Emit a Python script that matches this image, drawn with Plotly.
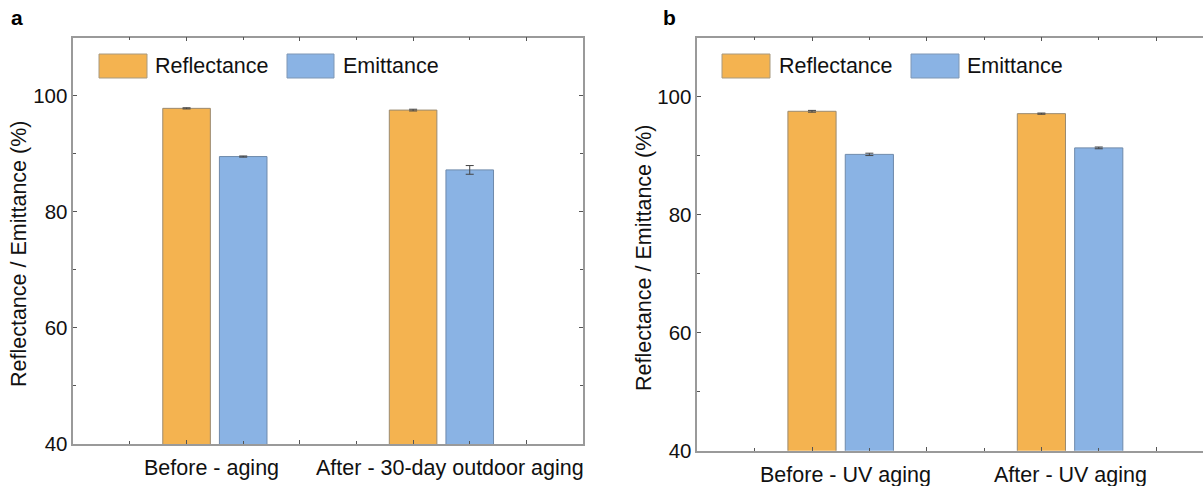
import plotly.graph_objects as go

# Measured values (%), with standard deviations
groups_a = ["Before - aging", "After - 30-day outdoor aging"]
refl_a = [97.8, 97.5]
refl_a_err = [0.1, 0.15]
emit_a = [89.5, 87.2]
emit_a_err = [0.1, 0.75]

groups_b = ["Before - UV aging", "After - UV aging"]
refl_b = [97.5, 97.1]
refl_b_err = [0.15, 0.1]
emit_b = [90.2, 91.3]
emit_b_err = [0.2, 0.15]

# Numeric bar positions on each panel's x axis
refl_pos = [1, 3]
emit_pos = [1.5, 3.5]
label_pos = [1.25, 3.25]
y_ticks = [40, 60, 80, 100]

ORANGE = "#F4B350"
BLUE = "#8AB3E4"
FONT = "Liberation Sans, Arial, sans-serif"
W, H = 1203, 486
TEXT_SIZE = 21.5

fig = go.Figure()


def add_bars(xaxis, yaxis, refl, refl_err, emit, emit_err):
    fig.add_trace(go.Bar(
        x=refl_pos, y=refl, width=0.42, xaxis=xaxis, yaxis=yaxis,
        marker=dict(color=ORANGE, line=dict(color="#9a8a70", width=1)),
        error_y=dict(type="data", array=refl_err, color="#444", thickness=1, width=4),
        showlegend=False, name="Reflectance"))
    fig.add_trace(go.Bar(
        x=emit_pos, y=emit, width=0.42, xaxis=xaxis, yaxis=yaxis,
        marker=dict(color=BLUE, line=dict(color="#6f8aab", width=1)),
        error_y=dict(type="data", array=emit_err, color="#444", thickness=1, width=4),
        showlegend=False, name="Emittance"))


add_bars("x", "y", refl_a, refl_a_err, emit_a, emit_a_err)
add_bars("x2", "y2", refl_b, refl_b_err, emit_b, emit_b_err)

axis_line = dict(showline=True, linecolor="#9a9a9a", linewidth=1.5,
                 showgrid=False, zeroline=False)

xcommon = dict(**axis_line, ticks="inside", dtick=1, tick0=0, ticklen=4,
               tickcolor="#555", tickwidth=1, showticklabels=False,
               minor=dict(dtick=0.5, tick0=0, ticks="inside", ticklen=3,
                          tickcolor="#555", tickwidth=1))
ycommon = dict(**axis_line, range=[40, 110], tickvals=y_ticks, ticks="inside",
               ticklen=4, tickcolor="#555", tickwidth=1,
               tickfont=dict(family=FONT, size=20.5, color="#111"),
               minor=dict(dtick=10, tick0=0, ticks="inside", ticklen=3,
                          tickcolor="#555", tickwidth=1))

# Panel a spans 73..583 px, panel b starts at 697 px and runs off the right edge
xa0, xa1 = 73.3, 583.0
xb0 = 697.3
unit_b = 114.7
ya_top, ya_bot = 37.5, 444.0
yb_top, yb_bot = 37.5, 450.7

fig.update_layout(
    width=W, height=H,
    margin=dict(l=0, r=0, t=0, b=0, autoexpand=False),
    paper_bgcolor="white", plot_bgcolor="white",
    barmode="overlay",
    font=dict(family=FONT, color="#111"),
    xaxis=dict(**xcommon, range=[0, 4.5], mirror="ticks",
               domain=[xa0 / W, xa1 / W], anchor="y"),
    yaxis=dict(**ycommon, mirror="ticks",
               domain=[1 - ya_bot / H, 1 - ya_top / H], anchor="x"),
    xaxis2=dict(**xcommon, range=[0, (W - xb0) / unit_b], mirror="ticks",
                domain=[xb0 / W, 1.0], anchor="y2"),
    yaxis2=dict(**ycommon, mirror=False,
                domain=[1 - yb_bot / H, 1 - yb_top / H], anchor="x2"),
)

annotations = []
shapes = []

# Group labels under each panel (small horizontal nudges per label)
label_sets = (
    ("x", groups_a, ya_bot, [-3, 9]),
    ("x2", groups_b, yb_bot, [5, 0]),
)
for xref, groups, ybot, shifts in label_sets:
    for pos, txt, dx in zip(label_pos, groups, shifts):
        annotations.append(dict(x=pos, xref=xref, y=1 - (ybot + 24) / H, yref="paper",
                                text=txt, showarrow=False, xanchor="center",
                                yanchor="middle", xshift=dx,
                                font=dict(size=TEXT_SIZE, family=FONT, color="#111")))

# Y axis titles
for xc, yc in ((19, 254), (644, 258)):
    annotations.append(dict(x=xc / W, y=1 - yc / H, xref="paper", yref="paper",
                            text="Reflectance / Emittance (%)", textangle=-90,
                            showarrow=False, xanchor="center", yanchor="middle",
                            font=dict(size=TEXT_SIZE, family=FONT, color="#111")))

# Panel letters
for xc, txt in ((17, "a"), (669, "b")):
    annotations.append(dict(x=xc / W, y=1 - 18 / H, xref="paper", yref="paper",
                            text="<b>%s</b>" % txt, showarrow=False,
                            xanchor="center", yanchor="middle",
                            font=dict(size=21, family=FONT, color="#000")))

# Legends drawn as swatches with labels
legend_items = [
    (99, 147, 153, "Reflectance", ORANGE, "#a89a80"),
    (287, 334, 341, "Emittance", BLUE, "#7f97b5"),
    (722, 770, 777, "Reflectance", ORANGE, "#a89a80"),
    (911, 959, 965, "Emittance", BLUE, "#7f97b5"),
]
for x0, x1, tx, txt, fill, edge in legend_items:
    shapes.append(dict(type="rect", xref="paper", yref="paper",
                       x0=x0 / W, x1=x1 / W, y0=1 - 78 / H, y1=1 - 54 / H,
                       fillcolor=fill, line=dict(color=edge, width=1)))
    annotations.append(dict(x=tx / W, y=1 - 66 / H, xref="paper", yref="paper",
                            text=txt, showarrow=False, xanchor="left",
                            yanchor="middle",
                            font=dict(size=TEXT_SIZE, family=FONT, color="#111")))

fig.update_layout(annotations=annotations, shapes=shapes)

fig.write_html("out.html")
